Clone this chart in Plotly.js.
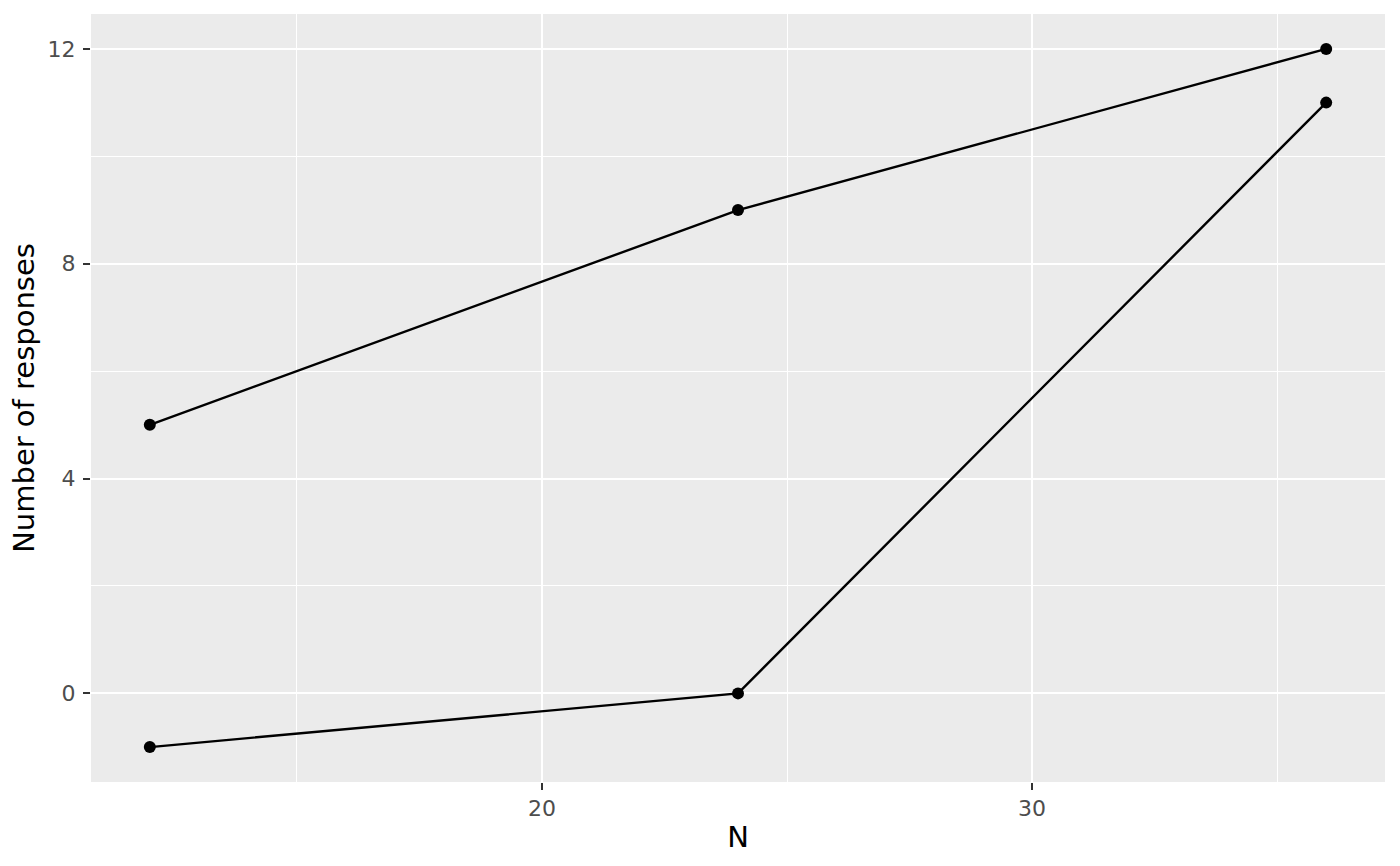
<!DOCTYPE html>
<html>
<head>
<meta charset="utf-8">
<script src="https://cdn.plot.ly/plotly-3.0.1.min.js"></script>
<style>html,body{margin:0;padding:0;background:#fff}#chart{width:1400px;height:866px}</style>
</head>
<body>
<div id="chart"></div>
<script>
const nValues = [12, 24, 36];
const upperResponses = [5, 9, 12];
const lowerResponses = [-1, 0, 11];
const xTicks = [20, 30];
const yTicks = [0, 4, 8, 12];
const xMinor = [15, 25, 35];
const yMinor = [2, 6, 10];
const xTitle = "N";
const yTitle = "Number of responses";

const lineStyle = {color: "#000000", width: 2.4};
const markerStyle = {color: "#000000", size: 12};

const traces = [
  {x: nValues, y: upperResponses, type: "scatter", mode: "lines+markers", line: lineStyle, marker: markerStyle, hoverinfo: "x+y"},
  {x: nValues, y: lowerResponses, type: "scatter", mode: "lines+markers", line: lineStyle, marker: markerStyle, hoverinfo: "x+y"}
];

const font = "DejaVu Sans, sans-serif";
const layout = {
  width: 1400, height: 866,
  paper_bgcolor: "#ffffff",
  plot_bgcolor: "#EBEBEB",
  showlegend: false,
  margin: {l: 91, r: 15, t: 14, b: 84},
  xaxis: {
    range: [10.8, 37.2],
    tickvals: xTicks,
    ticktext: xTicks.map(String),
    ticks: "outside", ticklen: 7, tickwidth: 2, tickcolor: "#333333",
    tickfont: {family: font, size: 22, color: "#4D4D4D"},
    showgrid: true, gridcolor: "#ffffff", gridwidth: 2.2,
    minor: {tickvals: xMinor, showgrid: true, gridcolor: "#ffffff", gridwidth: 1.1, ticks: ""},
    zeroline: false, showline: false,
    automargin: false,
    title: {text: xTitle, font: {family: font, size: 29, color: "#000000"}, standoff: 6}
  },
  yaxis: {
    range: [-1.65, 12.65],
    tickvals: yTicks,
    ticktext: yTicks.map(String),
    ticks: "outside", ticklen: 7, tickwidth: 2, tickcolor: "#333333",
    tickfont: {family: font, size: 22, color: "#4D4D4D"},
    ticklabelstandoff: 3,
    showgrid: true, gridcolor: "#ffffff", gridwidth: 2.2,
    minor: {tickvals: yMinor, showgrid: true, gridcolor: "#ffffff", gridwidth: 1.1, ticks: ""},
    zeroline: false, showline: false,
    automargin: false,
    title: {text: yTitle, font: {family: font, size: 29, color: "#000000"}, standoff: 4}
  }
};

Plotly.newPlot("chart", traces, layout, {displayModeBar: false});
</script>
</body>
</html>
